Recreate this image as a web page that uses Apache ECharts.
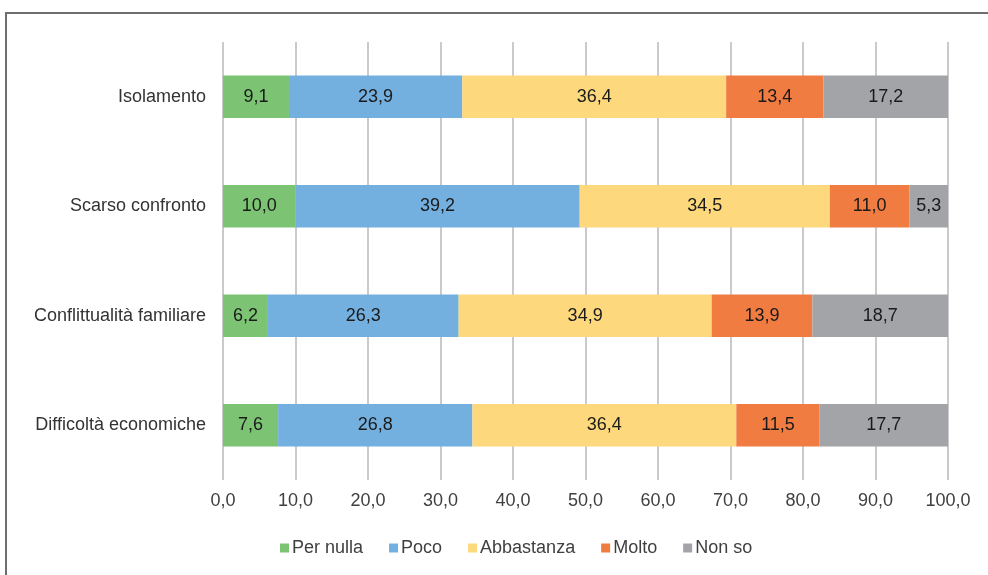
<!DOCTYPE html>
<html>
<head>
<meta charset="utf-8">
<script src="https://cdn.jsdelivr.net/npm/echarts@6/dist/echarts.min.js"></script>
<style>
  html, body { margin: 0; padding: 0; background: #fff; }
  #frame { position: absolute; left: 5px; top: 12px; width: 1000px; height: 600px;
           border-top: 2px solid #6e6e6e; border-left: 2px solid #6e6e6e; box-sizing: border-box; }
  #chart { position: absolute; left: 0; top: 0; width: 988px; height: 575px; }
</style>
</head>
<body>
<div id="frame"></div>
<div id="chart"></div>
<script>
// Categories listed bottom to top, as the category axis draws them
const categories = ['Difficoltà economiche', 'Conflittualità familiare', 'Scarso confronto', 'Isolamento'];

const perNulla   = [7.6, 6.2, 10.0, 9.1];
const poco       = [26.8, 26.3, 39.2, 23.9];
const abbastanza = [36.4, 34.9, 34.5, 36.4];
const molto      = [11.5, 13.9, 11.0, 13.4];
const nonSo      = [17.7, 18.7, 5.3, 17.2];

const seriesNames = ['Per nulla', 'Poco', 'Abbastanza', 'Molto', 'Non so'];
const seriesData = [perNulla, poco, abbastanza, molto, nonSo];
const colors = ['#7cc473', '#74b0df', '#fdd87c', '#f07c42', '#a2a4a7'];

const fmt = v => Number(v).toFixed(1).replace('.', ',');
const font = '"Liberation Sans", Arial, sans-serif';

const chart = echarts.init(document.getElementById('chart'), null, { renderer: 'canvas' });
chart.setOption({
  animation: false,
  color: colors,
  textStyle: { fontFamily: font },
  grid: { left: 223, right: 40, top: 42, bottom: 95, containLabel: false },
  legend: {
    bottom: 13,
    left: 275,
    itemWidth: 9,
    itemHeight: 9,
    itemGap: 26,
    icon: 'rect',
    textStyle: { fontSize: 18, color: '#404040', fontFamily: font, padding: [0, 0, 0, -2] },
    data: seriesNames
  },
  xAxis: {
    type: 'value',
    min: 0,
    max: 100,
    interval: 10,
    axisLine: { show: false },
    axisTick: { show: false },
    splitLine: { show: true, lineStyle: { color: '#cacaca', width: 2 } },
    axisLabel: { formatter: fmt, fontSize: 18, color: '#404040', margin: 12, fontFamily: font }
  },
  yAxis: {
    type: 'category',
    data: categories,
    axisLine: { show: false },
    axisTick: { show: false },
    axisLabel: { fontSize: 18, color: '#333', margin: 17, fontFamily: font }
  },
  series: seriesNames.map((name, i) => ({
    name,
    type: 'bar',
    stack: 'total',
    barWidth: '39%',
    data: seriesData[i],
    label: {
      show: true,
      position: 'inside',
      formatter: p => fmt(p.value),
      fontSize: 18,
      color: '#1a1a1a',
      fontFamily: font
    }
  }))
});
</script>
</body>
</html>
